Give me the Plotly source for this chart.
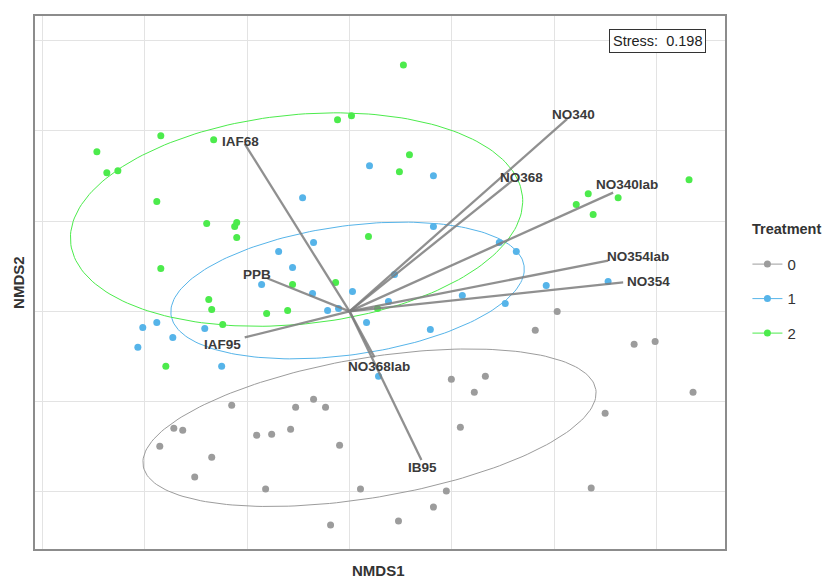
import numpy as np
import plotly.graph_objects as go

# ---------------- data ----------------
treatments = ["0", "1", "2"]

t0_x = [-1.150, -1.715, -1.628, -1.852, -1.345, -1.511, -0.906, -0.760, -0.819, -0.575,
        -0.526, -0.351, -0.234, -0.097, 0.107, -0.185, 0.478, 0.819, 0.945, 0.994,
        1.326, 1.218, 1.082, 2.027, 1.813, 2.778, 2.983, 3.353, 2.495, 2.359]
t0_y = [-1.040, -1.294, -1.316, -1.493, -1.615, -1.836, -1.372, -1.361, -1.969, -1.305,
        -1.062, -0.973, -1.062, -1.482, -1.969, -2.367, -2.323, -2.168, -1.991, -0.752,
        -0.719, -0.896, -1.283, 0.000, -0.210, -0.365, -0.332, -0.896, -1.128, -1.958]

t1_x = [0.195, 0.819, -0.458, 0.819, -0.351, -0.692, -0.556, 0.439, 1.462, 1.628,
        1.920, 1.520, 2.524, -0.361, 0.029, -0.214, -0.107, 0.380, 0.166, 0.789,
        1.101, 0.283, -0.858, -2.018, -1.881, -1.725, -2.066, -1.413, -1.248]
t1_y = [1.615, 1.504, 1.261, 0.940, 0.763, 0.664, 0.487, 0.409, 0.763, 0.664,
        0.288, 0.088, 0.332, 0.199, 0.221, 0.011, 0.033, 0.111, -0.122, -0.199,
        0.177, -0.719, 0.299, -0.177, -0.122, -0.288, -0.398, -0.188, -0.608]

t2_x = [-2.466, -1.842, -1.326, -2.369, -2.261, -1.881, -1.394, -1.101, -1.121, -1.101,
        -1.842, 0.526, -0.117, 0.019, 0.585, 0.487, 0.185, -0.556, -0.136, 3.314,
        2.330, 2.213, 2.622, 2.378, -1.374, -1.345, -1.238, -1.793, -0.809, -0.604, 0.273]
t2_y = [1.770, 1.947, 1.903, 1.538, 1.560, 1.217, 0.973, 0.985, 0.940, 0.819,
        0.476, 2.732, 2.124, 2.168, 1.737, 1.549, 0.830, 0.299, 0.321, 1.460,
        1.305, 1.184, 1.261, 1.073, 0.133, 0.022, -0.144, -0.608, -0.022, 0.011, 0.033]

# environmental vectors (fitted arrows)
vec_names = ["IAF68", "NO340", "NO368", "NO340lab", "NO354lab", "NO354",
             "PPB", "IAF95", "NO368lab", "IB95"]
vec_x = [-1.023, 2.125, 1.589, 2.573, 2.524, 2.671, -0.799, -1.023, 0.244, 0.702]
vec_y = [1.858, 2.135, 1.449, 1.316, 0.564, 0.321, 0.365, -0.288, -0.509, -1.648]

# 95% ellipses per treatment: centre, major-axis vector, minor-axis vector
ell_center = {"0": (0.195, -1.289), "1": (-0.019, 0.232), "2": (-0.517, 1.018)}
ell_major = {"0": (2.209, 0.424), "1": (1.723, 0.273), "2": (2.205, 0.260)}
ell_minor = {"0": (-0.114, 0.763), "1": (-0.087, 0.707), "2": (-0.106, 1.154)}

stress_value = 0.198

# ---------------- styles ----------------
FONT = "Liberation Sans, Arial"
colors = {"0": "#9c9c9c", "1": "#56B4E9", "2": "#4CEB4C"}
label_shift = {"IAF68": (-4, 2), "NO340": (6, 4), "NO368": (9, 3), "NO340lab": (14, 8),
               "NO354lab": (30, 4), "NO354": (25, 1), "PPB": (-11, 4), "IAF95": (-22, -7),
               "NO368lab": (4, -9), "IB95": (1, -7)}

pts = {"0": (t0_x, t0_y), "1": (t1_x, t1_y), "2": (t2_x, t2_y)}

fig = go.Figure()

# ellipses
t = np.linspace(0, 2 * np.pi, 200)
for k in treatments:
    cx, cy = ell_center[k]
    ax_, ay_ = ell_major[k]
    bx_, by_ = ell_minor[k]
    ex = cx + ax_ * np.cos(t) + bx_ * np.sin(t)
    ey = cy + ay_ * np.cos(t) + by_ * np.sin(t)
    fig.add_trace(go.Scatter(x=ex, y=ey, mode="lines", line=dict(color=colors[k], width=1),
                             showlegend=False, hoverinfo="skip"))

# points
for k in treatments:
    x, y = pts[k]
    fig.add_trace(go.Scatter(x=x, y=y, mode="markers",
                             marker=dict(color=colors[k], size=7), showlegend=False))

# arrows
ax_l, ay_l = [], []
for vx, vy in zip(vec_x, vec_y):
    ax_l += [0, vx, None]
    ay_l += [0, vy, None]
fig.add_trace(go.Scatter(x=ax_l, y=ay_l, mode="lines",
                         line=dict(color="rgba(125,125,125,0.85)", width=2.3),
                         showlegend=False, hoverinfo="skip"))

# arrow labels
for n, vx, vy in zip(vec_names, vec_x, vec_y):
    dx, dy = label_shift[n]
    fig.add_annotation(x=vx, y=vy, text="<b>%s</b>" % n, showarrow=False,
                       xshift=dx, yshift=dy,
                       font=dict(family=FONT, size=13.5, color="#3a3a3a"))

# legend entries
for k in treatments:
    fig.add_trace(go.Scatter(x=[None], y=[None], mode="lines+markers", name=k,
                             legendgroup=k,
                             line=dict(color=colors[k], width=1),
                             marker=dict(color=colors[k], size=7)))

# legend title
fig.add_annotation(xref="paper", yref="paper", x=1.0365, y=0.601,
                   xanchor="left", yanchor="middle",
                   text="<b>Treatment</b>", showarrow=False,
                   font=dict(family=FONT, size=14.5, color="#333"))

# stress box
fig.add_annotation(xref="paper", yref="paper", x=0.9016, y=0.954,
                   xanchor="center", yanchor="middle",
                   text="Stress:  %.3f" % stress_value, showarrow=False,
                   font=dict(family=FONT, size=14.5, color="#222"),
                   bordercolor="#333", borderwidth=1, borderpad=3, bgcolor="white")

# axis titles
fig.add_annotation(xref="paper", yref="paper", x=0.498, y=-0.04,
                   xanchor="center", yanchor="middle",
                   text="<b>NMDS1</b>", showarrow=False,
                   font=dict(family=FONT, size=15, color="#333"))
fig.add_annotation(xref="paper", yref="paper", x=-0.024, y=0.5, textangle=-90,
                   xanchor="center", yanchor="middle", text="<b>NMDS2</b>", showarrow=False,
                   font=dict(family=FONT, size=15, color="#333"))

grid = dict(showgrid=True, gridcolor="#e3e3e3", gridwidth=1, zeroline=False,
            showticklabels=False, ticks="", showline=True, linecolor="#8c8c8c",
            linewidth=1.5, mirror=True, dtick=1)
fig.update_xaxes(range=[-3.07, 3.665], tick0=0, **grid)
fig.update_yaxes(range=[-2.633, 3.274], tick0=0, **grid)

fig.update_layout(
    width=831, height=579,
    margin=dict(l=27, r=114, t=8, b=38, autoexpand=False),
    paper_bgcolor="white", plot_bgcolor="white",
    font=dict(family=FONT, size=14, color="#333"),
    legend=dict(x=1.0325, y=0.565, xanchor="left", yanchor="top",
                font=dict(size=15), itemwidth=30, tracegroupgap=12,
                bgcolor="rgba(0,0,0,0)"),
)

fig.write_html("out.html")
